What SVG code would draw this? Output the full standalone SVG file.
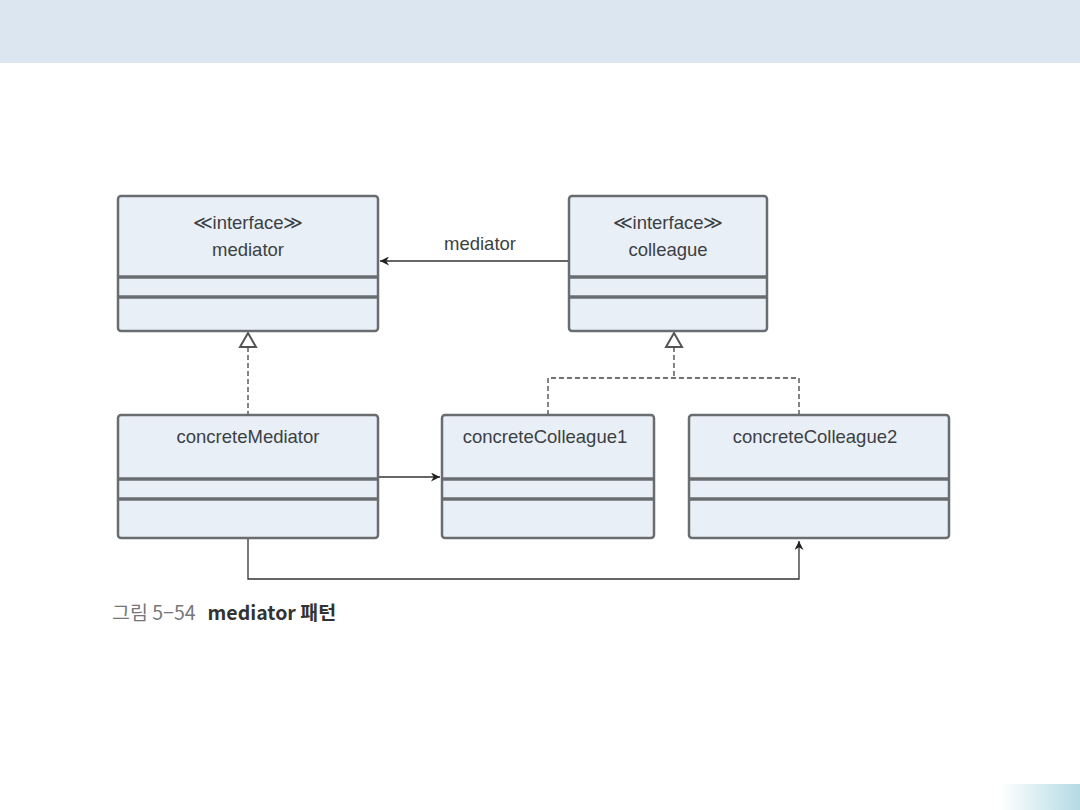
<svg xmlns="http://www.w3.org/2000/svg" width="1080" height="810" viewBox="0 0 1080 810">
<style>
.box{fill:#e9eff6;stroke:#6a6d70;stroke-width:2.5}
.sep{stroke:#6a6d70;stroke-width:3.5}
.t{font-family:"Liberation Sans",Arial,sans-serif;font-size:18.5px;fill:#3c3f44;text-anchor:middle}
.c{fill:none;stroke:#333;stroke-width:1.3}
.d{fill:none;stroke:#444;stroke-width:1.3;stroke-dasharray:5 3}
.cap{font-family:"Noto Sans CJK KR","Noto Sans",sans-serif;font-size:19.5px}
</style>
<defs>
<marker id="ar" viewBox="0 0 10 10" refX="10" refY="5" markerWidth="9" markerHeight="9" markerUnits="userSpaceOnUse" orient="auto"><path d="M0,0 L10,5 L0,10 L3,5 Z" fill="#222"/></marker>
<linearGradient id="g" x1="0" y1="0" x2="1" y2="0"><stop offset="0" stop-color="#fff"/><stop offset="1" stop-color="#b4dae5"/></linearGradient>
</defs>
<rect x="0" y="0" width="1080" height="810" fill="#fff"/>
<rect x="0" y="0" width="1080" height="63" fill="#dce6f1"/>
<rect x="1000" y="784" width="80" height="26" fill="url(#g)"/>
<g id="connectors">
<line class="c" x1="569" y1="261" x2="380" y2="261" marker-end="url(#ar)"/>
<text class="t" x="480" y="250">mediator</text>
<path d="M248,333 L256,347 L240,347 Z" fill="#fff" stroke="#555" stroke-width="2"/>
<line class="d" x1="248" y1="347" x2="248" y2="415"/>
<path d="M674,333 L682,347 L666,347 Z" fill="#fff" stroke="#555" stroke-width="2"/>
<line class="d" x1="674" y1="347" x2="674" y2="378"/>
<polyline class="d" points="548,415 548,378 799,378 799,415"/>
<line class="c" x1="378" y1="477" x2="440" y2="477" marker-end="url(#ar)"/>
<polyline class="c" points="248,539 248,579 799,579 799,541" marker-end="url(#ar)"/>
</g>
<g id="mediator">
<rect class="box" x="118" y="196" width="260" height="135" rx="3"/>
<line class="sep" x1="118" y1="277" x2="378" y2="277"/>
<line class="sep" x1="118" y1="297" x2="378" y2="297"/>
<text class="t" x="248" y="229">≪interface≫</text>
<text class="t" x="248" y="256">mediator</text>
</g>
<g id="colleague">
<rect class="box" x="569" y="196" width="198" height="135" rx="3"/>
<line class="sep" x1="569" y1="277" x2="767" y2="277"/>
<line class="sep" x1="569" y1="297" x2="767" y2="297"/>
<text class="t" x="668" y="229">≪interface≫</text>
<text class="t" x="668" y="256">colleague</text>
</g>
<g id="concreteMediator">
<rect class="box" x="118" y="415" width="260" height="123" rx="3"/>
<line class="sep" x1="118" y1="479" x2="378" y2="479"/>
<line class="sep" x1="118" y1="499" x2="378" y2="499"/>
<text class="t" x="248" y="443">concreteMediator</text>
</g>
<g id="concreteColleague1">
<rect class="box" x="442" y="415" width="212" height="123" rx="3"/>
<line class="sep" x1="442" y1="479" x2="654" y2="479"/>
<line class="sep" x1="442" y1="499" x2="654" y2="499"/>
<text class="t" x="545" y="443">concreteColleague1</text>
</g>
<g id="concreteColleague2">
<rect class="box" x="689" y="415" width="260" height="123" rx="3"/>
<line class="sep" x1="689" y1="479" x2="949" y2="479"/>
<line class="sep" x1="689" y1="499" x2="949" y2="499"/>
<text class="t" x="815" y="443">concreteColleague2</text>
</g>
<text class="cap" x="112" y="620"><tspan fill="#777">그림 5−54</tspan><tspan fill="#333" font-weight="bold" dx="12">mediator 패턴</tspan></text>
</svg>
